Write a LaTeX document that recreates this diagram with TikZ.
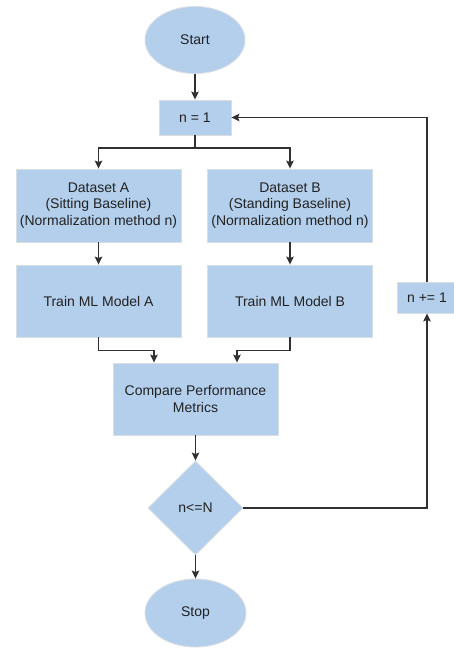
\documentclass[tikz,border=0pt]{standalone}
\usepackage{fontspec}
\setmainfont{Liberation Sans}
\usetikzlibrary{shapes.geometric,arrows.meta}
\definecolor{boxfill}{HTML}{B3CFEC}
\definecolor{boxline}{HTML}{DADDE2}
\definecolor{inkline}{HTML}{303030}
\definecolor{txt}{HTML}{222222}

\begin{document}
\begin{tikzpicture}[x=1pt,y=-1pt,
  base/.style={fill=boxfill,draw=boxline,line width=0.9pt,text=txt,
    font=\fontsize{14}{16.5}\selectfont,inner sep=0pt,align=center},
  procbox/.style={base,rectangle,minimum width=165pt,minimum height=72pt},
  smallbox/.style={base,rectangle,minimum width=72pt,minimum height=35pt},
  termnode/.style={base,ellipse,minimum width=100pt,minimum height=67pt},
  decision/.style={base,diamond,minimum width=95pt,minimum height=94pt},
  link/.style={draw=inkline,line width=1.3pt},
  flow/.style={link,-{Stealth[length=8pt,width=7.5pt,inset=1.5pt]}}
]
\useasboundingbox (0,0) rectangle (454,648);

% nodes
\node[termnode] (start) at (195,40) {Start};
\node[smallbox] (n1) at (195,117.5) {n = 1};
\node[procbox,minimum height=73pt] (dsA) at (98.5,205.5)
  {Dataset A\\(Sitting Baseline)\\(Normalization method n)};
\node[procbox,minimum height=73pt] (dsB) at (290,205.5)
  {Dataset B\\(Standing Baseline)\\(Normalization method n)};
\node[procbox] (trA) at (98.5,301) {Train ML Model A};
\node[procbox] (trB) at (290,301) {Train ML Model B};
\node[procbox] (cmp) at (195.5,399) {Compare Performance\\Metrics};
\node[decision] (dec) at (195.5,508) {n<=N};
\node[termnode,minimum width=101pt,minimum height=68pt] (stop) at (195.5,613) {Stop};
\node[smallbox,minimum width=60pt,minimum height=31pt] (inc) at (427,297.5) {n += 1};

% connectors
\coordinate (split) at (195,148);
\draw[flow] (start) -- (n1);
\draw[link] (n1.south) -- (split);
\draw[flow] (split) -| (dsA.north);
\draw[flow] (split) -| (dsB.north);
\draw[flow] (dsA) -- (trA);
\draw[flow] (dsB) -- (trB);
\draw[flow] (trA.south) -- ++(0,13) -| ([xshift=-41.5pt]cmp.north);
\draw[flow] (trB.south) -- ++(0,13) -| ([xshift=41.5pt]cmp.north);
\draw[flow] (cmp) -- (dec);
\draw[flow] (dec) -- (stop);
\draw[flow] (dec.east) -| (inc.south);
\draw[flow] (inc.north) |- (n1.east);
\end{tikzpicture}
\end{document}
